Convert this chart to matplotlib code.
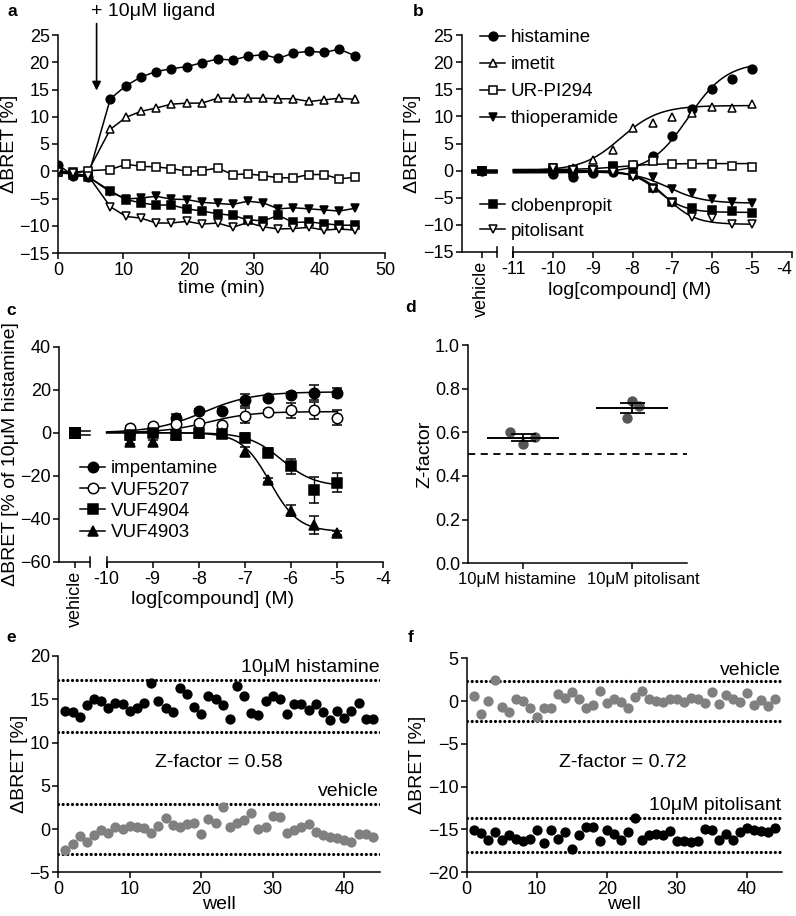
import numpy as np
import matplotlib
matplotlib.use('Agg')
import matplotlib.pyplot as plt
from matplotlib.transforms import ScaledTranslation

plt.rcParams['font.family'] = ['Liberation Sans', 'DejaVu Sans']
plt.rcParams['font.size'] = 13
plt.rcParams['axes.linewidth'] = 1.1
plt.rcParams['xtick.major.width'] = 1.1
plt.rcParams['ytick.major.width'] = 1.1
plt.rcParams['xtick.major.size'] = 4
plt.rcParams['ytick.major.size'] = 4
plt.rcParams['xtick.major.pad'] = 2.5
plt.rcParams['ytick.major.pad'] = 2

LAB = 14      # axis labels
LEG = 13.5    # legends
ANN = 14      # free text

# ---------------- data ----------------
# panel a: kinetics after ligand addition
time_min = [0, 2.3, 4.6, 8.0, 10.4, 12.7, 15.0, 17.3, 19.7, 22.0, 24.4, 26.7, 29.0, 31.4, 33.7, 36.0, 38.4, 40.7, 43.0, 45.4]
a_histamine = [1.2, -0.8, -1.0, 13.3, 15.7, 17.3, 18.3, 18.8, 19.2, 19.9, 20.6, 20.4, 21.1, 21.4, 20.7, 21.7, 22.0, 21.8, 22.4, 21.2]
a_imetit = [-0.2, -0.3, 0.0, 7.7, 9.9, 11.0, 11.6, 12.3, 12.5, 12.5, 13.4, 13.4, 13.4, 13.4, 13.3, 13.3, 12.8, 13.1, 13.4, 13.2]
a_urpi294 = [-0.1, -0.2, 0.1, 0.3, 1.3, 0.9, 0.8, 0.5, 0.0, 0.1, 0.6, -0.6, -0.5, -0.8, -1.2, -1.2, -0.6, -0.6, -1.4, -1.1]
a_thioperamide = [-0.3, -0.5, -1.0, -3.8, -5.1, -4.9, -4.6, -5.1, -5.2, -5.7, -5.9, -6.1, -5.5, -5.8, -6.9, -6.7, -6.9, -7.1, -7.3, -6.8]
a_clobenpropit = [0.3, -0.6, -1.0, -3.6, -5.2, -5.8, -6.2, -6.2, -6.9, -7.3, -7.8, -8.1, -8.9, -9.1, -8.1, -9.4, -9.3, -9.6, -9.9, -9.9]
a_pitolisant = [-0.2, -0.4, -0.8, -6.5, -8.3, -8.6, -9.5, -9.5, -9.2, -9.7, -9.5, -10.3, -9.4, -10.2, -10.6, -10.5, -10.3, -10.8, -10.6, -10.8]

# panel b: concentration response
b_logc = [-10, -9.5, -9, -8.5, -8, -7.5, -7, -6.5, -6, -5.5, -5]
b_names = ['histamine', 'imetit', 'UR-PI294', 'thioperamide', 'clobenpropit', 'pitolisant']
b_histamine = [-0.6, -1.1, -0.5, -0.2, 1.0, 2.7, 6.4, 11.3, 15.0, 16.8, 18.8]
b_imetit = [0.4, 0.4, 2.0, 3.8, 7.9, 8.8, 9.9, 10.6, 11.7, 11.6, 12.2]
b_urpi294 = [0.4, 0.1, 0.2, 0.7, 1.0, 1.7, 1.3, 1.3, 1.3, 0.9, 0.7]
b_thioperamide = [-0.2, -0.2, -0.2, -0.2, -0.2, -1.1, -3.3, -4.1, -5.2, -5.7, -5.9]
b_clobenpropit = [0.0, -0.2, 0.1, 0.9, -0.8, -3.2, -5.7, -6.9, -7.2, -7.4, -7.8]
b_pitolisant = [0.4, 0.1, 0.1, -0.2, -1.1, -3.4, -5.9, -8.5, -8.8, -9.8, -9.8]
b_vehicle = [0, 0, 0, 0, 0, 0]
# fit parameters: bottom, top, logEC50, hill
b_fits = [(-0.4, 20.0, -6.6, 0.9), (0.0, 12.0, -8.3, 0.9), (0.2, 1.3, -8.3, 1.0),
          (-0.2, -6.0, -7.1, 1.0), (0.0, -7.7, -7.35, 1.3), (0.0, -9.9, -7.15, 1.2)]

# panel c: % of 10 uM histamine
c_logc = [-9.5, -9, -8.5, -8, -7.5, -7, -6.5, -6, -5.5, -5]
c_names = ['impentamine', 'VUF5207', 'VUF4904', 'VUF4903']
c_impentamine = [0.5, 1.0, 7.0, 10.1, 10.1, 15.2, 16.0, 17.5, 18.6, 18.6]
c_impentamine_err = [1.0, 1.0, 1.5, 1.0, 1.0, 3.0, 1.0, 1.5, 3.5, 2.0]
c_vuf5207 = [2.0, 3.1, 3.9, 4.3, 3.6, 7.8, 9.5, 10.5, 10.5, 7.0]
c_vuf5207_err = [1.0, 1.0, 1.0, 1.0, 1.0, 3.5, 1.0, 3.5, 4.0, 3.5]
c_vuf4904 = [-1.1, -0.3, -1.0, 0.0, -0.8, -2.3, -9.3, -15.5, -26.7, -23.3]
c_vuf4904_err = [1.0, 1.0, 1.0, 1.0, 1.0, 2.0, 2.0, 3.5, 6.0, 4.5]
c_vuf4903 = [-4.2, -4.5, -1.1, -0.3, -0.3, -8.8, -22.0, -36.3, -42.9, -46.8]
c_vuf4903_err = [1.0, 1.0, 1.0, 1.0, 1.0, 2.0, 1.0, 2.5, 4.0, 1.0]
c_vehicle = [0, 0, 0, 0]
c_fits = [(0.0, 19.0, -7.9, 0.8), (0.0, 9.8, -7.8, 0.9), (0.0, -25.0, -6.2, 1.2), (0.0, -46.0, -6.45, 1.4)]

# panel d: Z-factor
d_labels = ['10μM histamine', '10μM pitolisant']
d_histamine_z = [0.60, 0.545, 0.58]
d_pitolisant_z = [0.665, 0.745, 0.72]
d_threshold = 0.5

# panel e / f: single plate wells
wells = list(range(1, 45))
e_histamine = [13.6, 13.5, 12.9, 14.3, 15.0, 14.8, 14.0, 14.6, 14.4, 13.6, 14.0, 14.6, 16.9, 14.8, 14.0,
               13.5, 16.3, 15.6, 14.1, 13.3, 15.4, 15.0, 14.3, 12.7, 16.5, 15.4, 13.4, 13.2, 14.8, 15.4,
               15.0, 13.3, 14.4, 14.4, 13.8, 14.4, 13.5, 12.6, 13.7, 12.8, 13.6, 14.6, 12.7, 12.7]
e_vehicle = [-2.4, -1.7, -0.85, -1.5, -0.65, -0.15, -0.4, 0.2, 0.0, 0.4, 0.2, 0.1, -0.45, 0.4, 1.3,
             0.5, 0.2, 0.6, 0.7, -0.6, 1.15, 0.7, 2.5, 0.25, 0.7, 1.0, 1.85, 0.0, 0.2, 1.45,
             1.35, -0.45, -0.15, 0.2, 0.6, -0.3, -0.65, -0.9, -1.05, -1.3, -1.45, -0.55, -0.55, -0.9]
e_hist_limits = [11.2, 17.2]
e_vehicle_limits = [-2.9, 2.9]
e_zfactor = 0.58

f_vehicle = [0.6, -1.45, 0.0, 2.5, -0.65, -1.25, 0.3, 0.0, -0.75, -1.85, -0.75, -0.75, 0.8, 0.4, 1.1,
             0.3, -0.85, -0.45, 1.2, -0.2, 0.2, -0.1, -0.75, 0.5, 1.2, 0.3, 0.0, -0.1, 0.3, 0.2,
             -0.1, 0.4, 0.2, -0.2, 1.1, -0.35, 0.7, 0.3, -0.1, 1.0, -0.45, 0.1, -0.6, 0.3]
f_pitolisant = [-15.05, -15.45, -16.2, -15.25, -16.2, -15.6, -16.15, -16.4, -16.15, -15.05, -16.6, -15.1, -16.1, -15.3, -17.3,
                -15.7, -14.7, -14.7, -16.4, -15.1, -15.5, -16.2, -15.3, -13.7, -16.2, -15.7, -15.5, -15.6, -15.2, -16.4,
                -16.3, -16.5, -16.3, -14.9, -15.1, -16.2, -15.5, -16.2, -15.3, -14.8, -15.1, -15.2, -15.3, -14.8]
f_vehicle_limits = [-2.35, 2.4]
f_pito_limits = [-17.6, -13.7]
f_zfactor = 0.72

# ---------------- helpers ----------------
W, H = 796, 916


def axpos(l, t, r, b):
    return [l / W, 1 - b / H, (r - l) / W, (b - t) / H]


def logistic(x, bottom, top, logec50, hill):
    return bottom + (top - bottom) / (1 + 10 ** ((logec50 - x) * hill))


def mstyle(marker, filled, ms=6.3):
    return dict(marker=marker, ms=ms, mec='black', mew=1.1,
                mfc='black' if filled else 'white', color='black')


def clean(ax):
    ax.spines['top'].set_visible(False)
    ax.spines['right'].set_visible(False)


def broken_axis(ax, xleft, break_x, start_x, ymin, dy):
    # short segment for the vehicle column, then the log axis
    ax.spines['bottom'].set_bounds(start_x, ax.get_xlim()[1])
    ax.plot([xleft, break_x], [ymin, ymin], color='black', lw=1.1, clip_on=False)
    for bx in (break_x, start_x):
        ax.plot([bx, bx], [ymin - dy, ymin + dy], color='black', lw=1.1, clip_on=False)


fig = plt.figure(figsize=(W / 100, H / 100), dpi=100)

# ---------------- a ----------------
ax = fig.add_axes(axpos(58, 35, 385, 253))
clean(ax)
a_series = [(a_histamine, 'o', True), (a_imetit, '^', False), (a_urpi294, 's', False),
            (a_thioperamide, 'v', True), (a_clobenpropit, 's', True), (a_pitolisant, 'v', False)]
for ys, mk, fl in a_series:
    ax.plot(time_min, ys, lw=1.1, **mstyle(mk, fl, 6.2))
ax.set_xlim(0, 50)
ax.set_ylim(-15, 25)
ax.set_xticks(range(0, 51, 10))
ax.set_yticks(range(-15, 26, 5))
ax.set_xlabel('time (min)', fontsize=LAB, labelpad=1)
ax.set_ylabel('ΔBRET [%]', fontsize=LAB, labelpad=1)
ax.annotate('', xy=(5.9, 14.3), xytext=(5.9, 27.6),
            arrowprops=dict(arrowstyle='-|>', color='black', lw=1.2, mutation_scale=13),
            annotation_clip=False)
ax.text(5.0, 29.3, '+ 10μM ligand', fontsize=ANN, ha='left', va='center')

# ---------------- b ----------------
ax = fig.add_axes(axpos(461.7, 35, 791.7, 252))
clean(ax)
b_xleft, b_vehx, b_break, b_start = -12.3, -11.8, -11.42, -11.0
ax.set_xlim(b_xleft, -4)
ax.set_ylim(-15, 25)
b_vals = [b_histamine, b_imetit, b_urpi294, b_thioperamide, b_clobenpropit, b_pitolisant]
b_marks = [('o', True), ('^', False), ('s', False), ('v', True), ('s', True), ('v', False)]
handles = []
for vals, (mk, fl), fit in zip(b_vals, b_marks, b_fits):
    xs = np.linspace(b_start, -5, 200)
    ax.plot(xs, logistic(xs, *fit), color='black', lw=1.1)
    ax.plot([b_vehx - 0.25, b_break], [fit[0], fit[0]], color='black', lw=1.1)
    ax.plot(b_logc, vals, ls='none', **mstyle(mk, fl))
    handles.append(plt.Line2D([], [], lw=1.1, **mstyle(mk, fl)))
for i in [1, 2, 0, 3, 5, 4]:
    mk, fl = b_marks[i]
    ax.plot([b_vehx], [b_vehicle[i]], ls='none', clip_on=False, **mstyle(mk, fl))
broken_axis(ax, b_xleft, b_break, b_start, -15, 0.9)
ax.set_xticks([b_vehx] + list(range(-11, -3)))
ax.set_xticklabels(['vehicle'] + [str(v) for v in range(-11, -3)])
ax.get_xticklabels()[0].set_rotation(90)
ax.get_xticklabels()[-1].set_horizontalalignment('right')
ax.set_yticks(range(-15, 26, 5))
ax.set_xlabel('log[compound] (M)', fontsize=LAB)
ax.xaxis.set_label_coords(0.51, -0.14)
ax.set_ylabel('ΔBRET [%]', fontsize=LAB, labelpad=1)
leg1 = ax.legend(handles[:4], b_names[:4], loc='upper left', bbox_to_anchor=(0.055, 1.027),
                 frameon=False, fontsize=LEG, handlelength=1.35, handletextpad=0.28,
                 labelspacing=0.53, borderpad=0, borderaxespad=0)
ax.add_artist(leg1)
ax.legend(handles[4:], b_names[4:], loc='upper left', bbox_to_anchor=(0.055, 0.251),
          frameon=False, fontsize=LEG, handlelength=1.35, handletextpad=0.28,
          labelspacing=0.42, borderpad=0, borderaxespad=0)

# ---------------- c ----------------
ax = fig.add_axes(axpos(59.3, 346.7, 382.7, 561.7))
clean(ax)
c_xleft, c_vehx, c_break, c_start = -11.03, -10.69, -10.36, -10.0
ax.set_xlim(c_xleft, -4)
ax.set_ylim(-60, 40)
c_vals = [(c_impentamine, c_impentamine_err), (c_vuf5207, c_vuf5207_err),
          (c_vuf4904, c_vuf4904_err), (c_vuf4903, c_vuf4903_err)]
c_marks = [('o', True), ('o', False), ('s', True), ('^', True)]
handles = []
for (vals, err), (mk, fl), fit in zip(c_vals, c_marks, c_fits):
    xs = np.linspace(c_start, -5, 200)
    ax.plot(xs, logistic(xs, *fit), color='black', lw=1.1)
    st = mstyle(mk, fl, 7.5)
    st.pop('color')
    ax.errorbar(c_logc, vals, yerr=err, ls='none', ecolor='black', elinewidth=1.0,
                capsize=3.5, capthick=1.0, **st)
    handles.append(plt.Line2D([], [], lw=1.1, **mstyle(mk, fl, 7.5)))
for off in (1.0, -1.0):
    ax.plot([c_vehx, c_break], [off, off], color='black', lw=1.1)
for v in c_vehicle:
    ax.plot([c_vehx], [v], ls='none', clip_on=False, **mstyle('s', True, 7.5))
broken_axis(ax, c_xleft, c_break, c_start, -60, 2.3)
ax.set_xticks([c_vehx] + list(range(-10, -3)))
ax.set_xticklabels(['vehicle'] + [str(v) for v in range(-10, -3)])
ax.get_xticklabels()[0].set_rotation(90)
ax.set_yticks(range(-60, 41, 20))
ax.set_xlabel('log[compound] (M)', fontsize=LAB)
ax.xaxis.set_label_coords(0.475, -0.135)
ax.set_ylabel('ΔBRET [% of 10μM histamine]', fontsize=LAB, labelpad=1)
ax.legend(handles, c_names, loc='upper left', bbox_to_anchor=(0.064, 0.473),
          frameon=False, fontsize=LEG, handlelength=1.35, handletextpad=0.28,
          labelspacing=0.23, borderpad=0, borderaxespad=0)

# ---------------- d ----------------
ax = fig.add_axes(axpos(468.3, 345, 686.7, 563.3))
clean(ax)
ax.set_xlim(-0.5, 1.5)
ax.set_ylim(0, 1.0)
d_groups = [d_histamine_z, d_pitolisant_z]
d_jitter = [[-0.12, 0.0, 0.11], [-0.05, 0.0, 0.06]]
for pos, (vals, jit) in enumerate(zip(d_groups, d_jitter)):
    vals = np.array(vals)
    ax.plot(pos + np.array(jit), vals, 'o', ms=7.5, color='#555555', mec='none', zorder=2)
    m = vals.mean()
    sem = vals.std(ddof=1) / np.sqrt(len(vals))
    ax.hlines(m, pos - 0.33, pos + 0.33, color='black', lw=1.4, zorder=3)
    ax.errorbar([pos], [m], yerr=[sem], fmt='none', ecolor='black', elinewidth=1.3,
                capsize=9, capthick=1.3, zorder=3)
ax.axhline(d_threshold, color='black', lw=1.3, ls=(0, (4, 3)))
ax.set_xticks([0, 1])
ax.set_xticklabels(d_labels, fontsize=12)
# the two category labels sit slightly apart from their ticks
for lbl, dx in zip(ax.get_xticklabels(), (-0.06, 0.11)):
    lbl.set_transform(lbl.get_transform() + ScaledTranslation(dx, 0, fig.dpi_scale_trans))
ax.set_yticks(np.arange(0, 1.01, 0.2))
ax.set_yticklabels(['%.1f' % v for v in np.arange(0, 1.01, 0.2)])
ax.set_ylabel('Z-factor', fontsize=LAB, labelpad=1)

# ---------------- e ----------------
dot_ls = (0, (0.01, 1.45))
ax = fig.add_axes(axpos(58.3, 656, 380, 872.3))
clean(ax)
for lim in e_hist_limits + e_vehicle_limits:
    ax.axhline(lim, color='black', lw=2.3, ls=dot_ls, dash_capstyle='round')
ax.plot(wells, e_histamine, 'o', ms=7.4, color='black', mec='none', zorder=3)
ax.plot(wells, e_vehicle, 'o', ms=7.4, color='#808080', mec='none', zorder=3)
ax.set_xlim(0, 45)
ax.set_ylim(-5, 20)
ax.set_xticks(range(0, 41, 10))
ax.set_yticks(range(-5, 21, 5))
ax.set_xlabel('well', fontsize=LAB, labelpad=-2)
ax.set_ylabel('ΔBRET [%]', fontsize=LAB, labelpad=1)
ax.text(44.9, 18.7, '10μM histamine', ha='right', va='center', fontsize=ANN)
ax.text(44.9, 4.35, 'vehicle', ha='right', va='center', fontsize=ANN)
ax.text(22.5, 7.7, 'Z-factor = %.2f' % e_zfactor, ha='center', va='center', fontsize=ANN)

# ---------------- f ----------------
ax = fig.add_axes(axpos(466.7, 658.3, 781.7, 872.3))
clean(ax)
for lim in f_vehicle_limits + f_pito_limits:
    ax.axhline(lim, color='black', lw=2.3, ls=dot_ls, dash_capstyle='round')
ax.plot(wells, f_vehicle, 'o', ms=7.4, color='#808080', mec='none', zorder=3)
ax.plot(wells, f_pitolisant, 'o', ms=7.4, color='black', mec='none', zorder=3)
ax.set_xlim(0, 45)
ax.set_ylim(-20, 5)
ax.set_xticks(range(0, 41, 10))
ax.set_yticks(range(-20, 6, 5))
ax.set_xlabel('well', fontsize=LAB, labelpad=-2)
ax.set_ylabel('ΔBRET [%]', fontsize=LAB, labelpad=1)
ax.text(44.9, 3.6, 'vehicle', ha='right', va='center', fontsize=ANN)
ax.text(44.9, -12.15, '10μM pitolisant', ha='right', va='center', fontsize=ANN)
ax.text(22.3, -7.2, 'Z-factor = %.2f' % f_zfactor, ha='center', va='center', fontsize=ANN)

# panel letters
for letter, px, py in [('a', 8, 11), ('b', 413, 11), ('c', 6, 311), ('d', 405, 307),
                       ('e', 6, 638), ('f', 408, 638)]:
    fig.text(px / W, 1 - py / H, letter, fontsize=12.5, fontweight='bold', ha='left', va='center')

fig.savefig('out.png', dpi=100)
